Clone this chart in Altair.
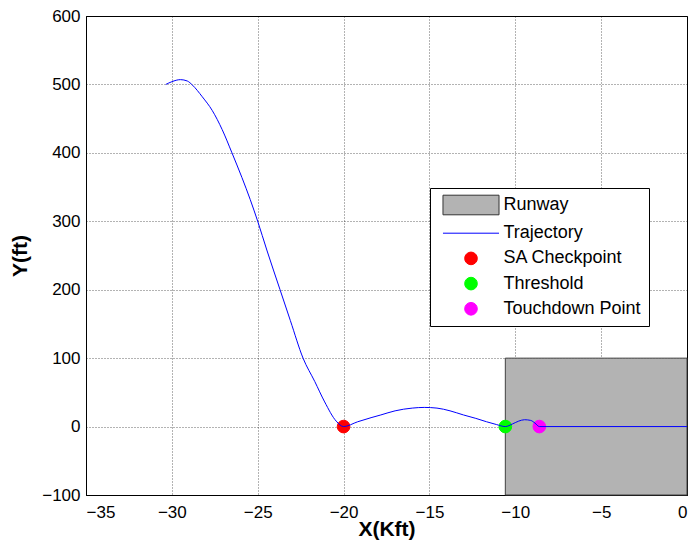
import altair as alt
import pandas as pd

# Trajectory (X in Kft, Y in ft)
traj_x = [-30.35, -30.0, -29.5, -29.1, -28.8, -28.23, -27.65, -27.07, -26.5, -25.92, -25.44,
          -25.0, -24.47, -23.7, -23.1, -22.36, -21.68, -21.1, -20.43, -20.0,
          -19.18, -18.4, -17.83, -17.0, -16.0, -15.3, -14.56, -13.8, -13.02, -12.3, -11.67,
          -11.1, -10.58, -10.15, -9.8, -9.46, -9.1, -8.85, -8.6, 0.0]
traj_y = [500, 504, 507, 505, 499, 482, 462, 434, 400, 364, 332,
          300, 258, 200, 155, 100, 66, 36, 8, 0,
          7, 13, 17, 23, 27, 28, 27, 23, 17, 12, 7,
          3, 0, 4, 8, 10, 9, 5, 0, 0]

# Key points
point_names = ["SA Checkpoint", "Threshold", "Touchdown Point"]
point_x = [-20.0, -10.58, -8.6]
point_y = [0, 0, 0]

# Runway rectangle
runway_x = [-10.58, 0.0]
runway_y = [-100, 100]

legend_labels = ["Runway", "Trajectory", "SA Checkpoint", "Threshold", "Touchdown Point"]
legend_fills = ["#b3b3b3", "#0000ff", "#ff0000", "#00ff00", "#ff00ff"]
legend_strokes = ["#333333", "#0000ff", "#ff0000", "#00ff00", "#ff00ff"]
legend_shapes = [
    "M-4.43,-1.55L4.43,-1.55L4.43,1.55L-4.43,1.55Z",
    "M-4.43,0L4.43,0",
    "circle", "circle", "circle",
]

x_ticks = [-35, -30, -25, -20, -15, -10, -5, 0]
y_ticks = [-100, 0, 100, 200, 300, 400, 500, 600]

traj_df = pd.DataFrame({"x": traj_x, "y": traj_y})
pts_df = pd.DataFrame({"name": point_names, "x": point_x, "y": point_y})
rw_df = pd.DataFrame({"x": [runway_x[0]], "x2": [runway_x[1]],
                      "y": [runway_y[0]], "y2": [runway_y[1]]})

xs = alt.Scale(domain=[-35, 0], nice=False, zero=False)
ys = alt.Scale(domain=[-100, 600], nice=False, zero=False)
x_axis = alt.Axis(title="X(Kft)", values=x_ticks, format="d")
y_axis = alt.Axis(title="Y(ft)", values=y_ticks, format="d")

rw = alt.Chart(rw_df).mark_rect(fill="#b3b3b3", stroke="#404040", strokeWidth=1).encode(
    x=alt.X("x:Q", scale=xs, axis=x_axis),
    x2="x2:Q",
    y=alt.Y("y:Q", scale=ys, axis=y_axis),
    y2="y2:Q",
)

legend = alt.Legend(
    title=None, orient="none", legendX=344, legendY=172,
    strokeColor="black", fillColor="white", padding=8,
    labelFontSize=18, labelFont="Liberation Sans", labelColor="black",
    symbolSize=160, symbolOffset=24, labelOffset=23.5, rowPadding=7.2,
    symbolOpacity=1, symbolStrokeWidth=1,
)

pts = alt.Chart(pts_df).mark_point(filled=True, size=160, opacity=1, strokeWidth=1).encode(
    x=alt.X("x:Q", scale=xs, axis=x_axis),
    y=alt.Y("y:Q", scale=ys, axis=y_axis),
    color=alt.Color("name:N", scale=alt.Scale(domain=legend_labels, range=legend_fills), legend=legend),
    stroke=alt.Stroke("name:N", scale=alt.Scale(domain=legend_labels, range=legend_strokes), legend=legend),
    shape=alt.Shape("name:N", scale=alt.Scale(domain=legend_labels, range=legend_shapes), legend=legend),
)

line = alt.Chart(traj_df).mark_line(color="#0000ff", strokeWidth=1, interpolate="monotone").encode(
    x=alt.X("x:Q", scale=xs, axis=x_axis),
    y=alt.Y("y:Q", scale=ys, axis=y_axis),
    order=alt.Order("x:Q"),
)

chart = alt.layer(rw, pts, line).properties(
    width=601, height=479,
    autosize=alt.AutoSizeParams(type="none"),
    padding={"left": 78, "top": 8, "right": 1, "bottom": 47},
).configure_view(stroke="black", strokeWidth=1).configure_axis(
    labelFont="Liberation Sans", labelFontSize=17, labelColor="black",
    titleFont="Liberation Sans", titleFontSize=21, titleFontWeight="bold", titleColor="black",
    domainColor="black", gridColor="#000000", gridDash=[1, 2], gridOpacity=0.6,
    ticks=False,
).configure_axisX(labelPadding=9, titlePadding=-2).configure_axisY(labelPadding=6, titlePadding=11)

chart.save("out.html", embed_options={"renderer": "svg", "actions": False})
